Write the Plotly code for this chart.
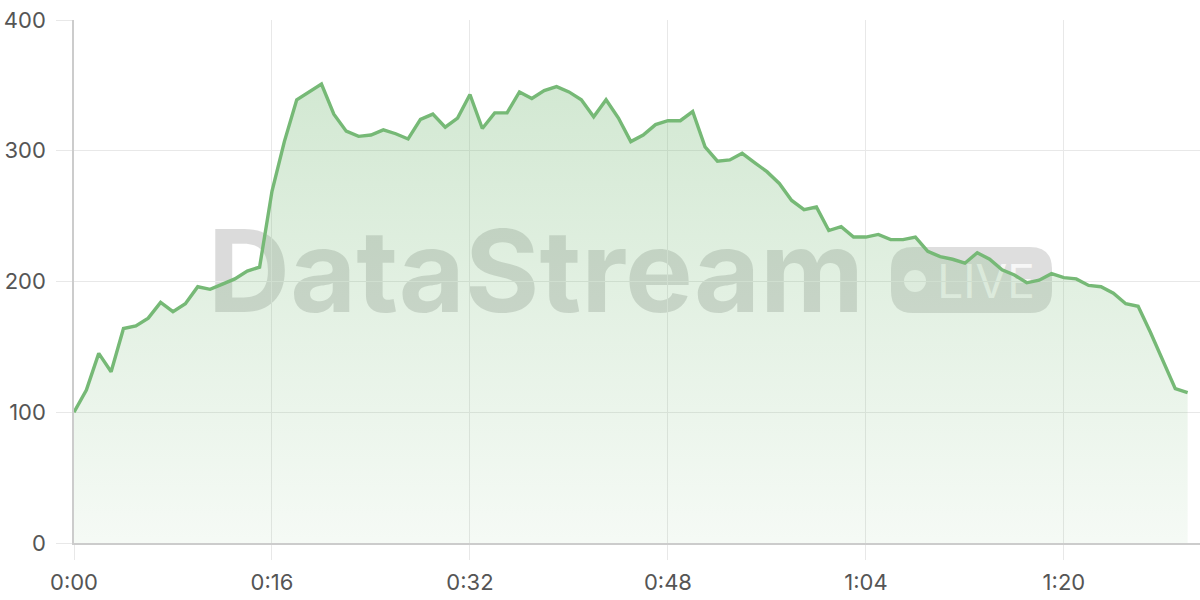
import plotly.graph_objects as go

seconds = list(range(0, 91))
values = [100, 117, 145, 131, 164, 166, 172, 184, 177, 183,
          196, 194, 198, 202, 208, 211, 269, 307, 339, 345,
          351, 328, 315, 311, 312, 316, 313, 309, 324, 328,
          318, 325, 343, 317, 329, 329, 345, 340, 346, 349,
          345, 339, 326, 339, 325, 307, 312, 320, 323, 323,
          330, 303, 292, 293, 298, 291, 284, 275, 262, 255,
          257, 239, 242, 234, 234, 236, 232, 232, 234, 223,
          219, 217, 214, 222, 217, 209, 205, 199, 201, 206,
          203, 202, 197, 196, 191, 183, 181, 161, 139, 118, 115]
x_tickvals = [0, 16, 32, 48, 64, 80]
x_ticktext = ["0:00", "0:16", "0:32", "0:48", "1:04", "1:20"]
y_tickvals = [0, 100, 200, 300, 400]

LINE = "#76b976"
FONT = "Inter"

fig = go.Figure()
fig.add_trace(go.Scatter(
    x=seconds, y=values, mode="lines",
    line=dict(color=LINE, width=3.4),
    fill="tozeroy",
    fillgradient=dict(type="vertical", start=0, stop=350,
                      colorscale=[[0, "rgba(116,184,116,0.07)"],
                                  [1, "rgba(116,184,116,0.32)"]]),
    hoverinfo="skip", showlegend=False,
))

# watermark
fig.add_shape(type="rect", xref="paper", yref="paper", layer="below",
              x0=(200 - 74) / 1126, x1=(872 - 74) / 1126, y0=0.389, y1=0.669,
              line=dict(width=0), fillcolor="rgba(0,0,0,0)",
              label=dict(text="DataStream", font=dict(family=FONT, size=114, color="rgba(0,0,0,0.14)", weight=700),
                         textposition="middle center"))
# LIVE badge
bx0, bx1, by0, by1 = (891 - 74) / 1126, (1052 - 74) / 1126, (543 - 313) / 523, (543 - 247) / 523
r = 22
w = 1052 - 891
h = 313 - 247
path = (f"M {r},0 L {w - r},0 Q {w},0 {w},{r} L {w},{h - r} Q {w},{h} {w - r},{h} "
        f"L {r},{h} Q 0,{h} 0,{h - r} L 0,{r} Q 0,0 {r},0 Z")
fig.add_shape(type="path", xref="paper", yref="paper", layer="below",
              xsizemode="pixel", ysizemode="pixel", xanchor=bx0, yanchor=by0,
              path=path, line=dict(width=0), fillcolor="rgba(0,0,0,0.13)")
fig.add_shape(type="circle", xref="paper", yref="paper", layer="below",
              xsizemode="pixel", ysizemode="pixel",
              xanchor=(915 - 74) / 1126, yanchor=(543 - 281) / 523,
              x0=-11, x1=11, y0=-11, y1=11,
              line=dict(width=0), fillcolor="rgba(255,255,255,0.8)")
fig.add_shape(type="rect", xref="paper", yref="paper", layer="below",
              x0=(934 - 74) / 1126, x1=(1038 - 74) / 1126, y0=by0, y1=by1,
              line=dict(width=0), fillcolor="rgba(0,0,0,0)",
              label=dict(text="LIVE", font=dict(family=FONT, size=46, color="rgba(255,255,255,0.8)", weight=400),
                         textposition="middle center"))

fig.update_layout(
    width=1200, height=600,
    margin=dict(l=74, r=0, t=20, b=57),
    paper_bgcolor="white", plot_bgcolor="white",
    font=dict(family=FONT, size=22, color="#555555"),
    xaxis=dict(range=[0, 91], tickvals=x_tickvals, ticktext=x_ticktext,
               showgrid=True, gridcolor="#e8e8e8", gridwidth=1,
               ticks="outside", ticklen=15, tickcolor="#e8e8e8", tickwidth=1,
               showline=True, linecolor="#cccccc", linewidth=1.5,
               zeroline=False, ticklabelstandoff=4, fixedrange=True, automargin=False),
    yaxis=dict(range=[0, 400], tickvals=y_tickvals,
               showgrid=True, gridcolor="#e8e8e8", gridwidth=1,
               ticks="outside", ticklen=16, tickcolor="#e8e8e8", tickwidth=1,
               showline=True, linecolor="#cccccc", linewidth=1.5,
               zeroline=False, ticklabelstandoff=6, fixedrange=True, automargin=False),
)

fig.write_html("out.html", config={"displayModeBar": False},
               post_script="document.body.style.margin='0';")
